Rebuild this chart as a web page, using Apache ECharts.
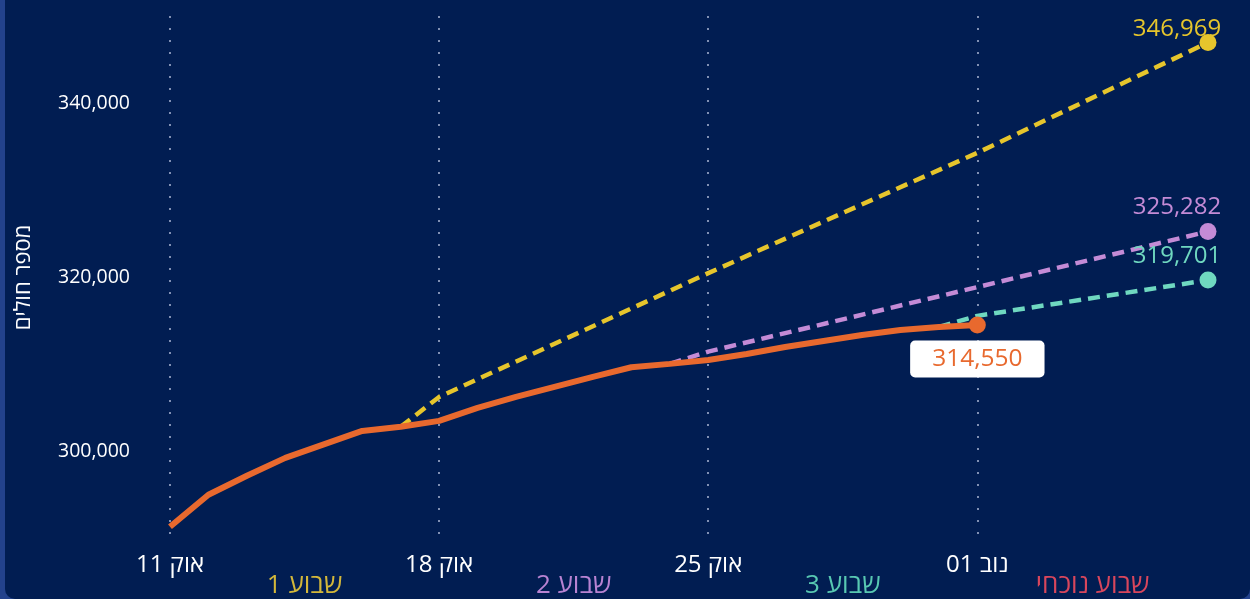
<!DOCTYPE html>
<html>
<head>
<meta charset="utf-8">
<script src="https://cdn.jsdelivr.net/npm/echarts@6/dist/echarts.min.js"></script>
<style>
  html, body { margin: 0; padding: 0; width: 1250px; height: 599px; overflow: hidden; background: #23428c; }
  #chart { position: absolute; left: 5px; top: 0; width: 1245px; height: 599px; background: #011d52; border-radius: 0 0 10px 10px; }
</style>
</head>
<body>
<div id="chart"></div>
<script>
// days, oct 11 .. nov 07
const categories = [
  '11 אוק', '12 אוק', '13 אוק', '14 אוק', '15 אוק', '16 אוק', '17 אוק',
  '18 אוק', '19 אוק', '20 אוק', '21 אוק', '22 אוק', '23 אוק', '24 אוק',
  '25 אוק', '26 אוק', '27 אוק', '28 אוק', '29 אוק', '30 אוק', '31 אוק',
  '01 נוב', '02 נוב', '03 נוב', '04 נוב', '05 נוב', '06 נוב', '07 נוב'
]
const actual = [
  291404, 295072, 297250, 299310, 300860, 302400, 302870,
  303550, 305040, 306300, 307450, 308600, 309700, 310090,
  310540, 311230, 312030, 312720, 313410, 313980, 314330,
  314550, null, null, null, null, null, null
]
const forecastWeek1 = [
  null, null, null, null, null, null, 302870,
  306300, null, null, null, null, null, null,
  320500, null, null, null, null, null, null,
  334300, null, null, null, null, null, 346969
]
const forecastWeek2 = [
  null, null, null, null, null, null, null,
  null, null, null, null, null, null, 310090,
  311500, null, null, null, null, null, null,
  318900, null, null, null, null, null, 325282
]
const forecastWeek3 = [
  null, null, null, null, null, null, null,
  null, null, null, null, null, null, null,
  null, null, null, null, null, null, 314330,
  315600, null, null, null, null, null, 319701
]
const yTickLabels = [300000, 320000, 340000]
const weekPositions = [3.5, 10.5, 17.5, 24]
const weekNames = ['1 שבוע', '2 שבוע', '3 שבוע', 'שבוע נוכחי']
const weekColors = ['#d3b73a', '#b883d2', '#58c8b2', '#d8465c']

const FONT = '"Open Sans", "DejaVu Sans", sans-serif'
const fmt = v => Number(v).toLocaleString('en-US')
const lastIndex = arr => arr.reduce((acc, v, i) => (v != null ? i : acc), -1)

// only the last point of a line gets a dot and a label
function withEndMark(arr, size, label) {
  const end = lastIndex(arr)
  return arr.map((v, i) => {
    if (i !== end) return v
    return { value: v, symbolSize: size, label: Object.assign({ show: true, formatter: p => fmt(p.value) }, label) }
  })
}

function forecastSeries(name, data, color, labelOffset) {
  return {
    name,
    type: 'line',
    data: withEndMark(data, 17, {
      position: 'top',
      distance: 0,
      offset: labelOffset,
      color,
      fontFamily: FONT,
      fontSize: 24
    }),
    connectNulls: true,
    symbol: 'circle',
    showSymbol: true,
    symbolSize: 0,
    lineStyle: { color, width: 4.5, type: [12, 7] },
    itemStyle: { color },
    label: { show: false },
    z: 2,
    silent: true
  }
}

const chart = echarts.init(document.getElementById('chart'))

chart.setOption({
  backgroundColor: 'transparent',
  animation: false,
  grid: { left: 165, right: 42, top: 16, bottom: 60, containLabel: false, outerBoundsMode: 'none' },
  xAxis: [
    {
      type: 'category',
      data: categories,
      boundaryGap: false,
      axisLine: { show: false },
      axisTick: { show: false },
      axisLabel: {
        interval: 6,
        margin: 14,
        color: '#ffffff',
        fontFamily: FONT,
        fontSize: 24
      },
      splitLine: {
        show: true,
        interval: 6,
        lineStyle: { color: 'rgba(230,235,255,0.75)', width: 1.5, type: [2, 10] }
      }
    },
    {
      type: 'value',
      min: 0,
      max: categories.length - 1,
      position: 'bottom',
      offset: 20,
      axisLine: { show: false },
      axisTick: { show: false },
      splitLine: { show: false },
      axisLabel: {
        customValues: weekPositions,
        margin: 14,
        fontFamily: FONT,
        fontSize: 26,
        formatter: v => {
          const i = weekPositions.indexOf(v)
          return i < 0 ? '' : `{w${i}|${weekNames[i]}}`
        },
        rich: Object.fromEntries(weekColors.map((c, i) => [`w${i}`, { color: c, fontFamily: FONT, fontSize: 26 }]))
      }
    }
  ],
  yAxis: {
    type: 'value',
    min: 290000,
    max: 350000,
    interval: 10000,
    name: 'מספר חולים',
    nameLocation: 'middle',
    nameGap: 135,
    nameTextStyle: { color: '#ffffff', fontFamily: FONT, fontSize: 22 },
    axisLine: { show: false },
    axisTick: { show: false },
    splitLine: { show: false },
    axisLabel: {
      margin: 40,
      color: '#ffffff',
      fontFamily: FONT,
      fontSize: 19.5,
      formatter: v => (yTickLabels.includes(v) ? fmt(v) : '')
    }
  },
  series: [
    forecastSeries('שבוע 1', forecastWeek1, '#e6c52c', [-31, 7]),
    forecastSeries('שבוע 2', forecastWeek2, '#c48bd6', [-31, -4]),
    forecastSeries('שבוע 3', forecastWeek3, '#6fd8c0', [-31, -3]),
    {
      name: 'בפועל',
      type: 'line',
      data: withEndMark(actual, 17, {
        position: 'bottom',
        distance: 7,
        color: '#e8692e',
        backgroundColor: '#ffffff',
        borderRadius: 5,
        padding: [6, 22],
        lineHeight: 25,
        fontFamily: FONT,
        fontSize: 24.5
      }),
      symbol: 'circle',
      showSymbol: true,
      symbolSize: 0,
      lineStyle: { color: '#e8692e', width: 6 },
      itemStyle: { color: '#e8692e' },
      label: { show: false },
      z: 3,
      silent: true
    }
  ]
})
</script>
</body>
</html>
